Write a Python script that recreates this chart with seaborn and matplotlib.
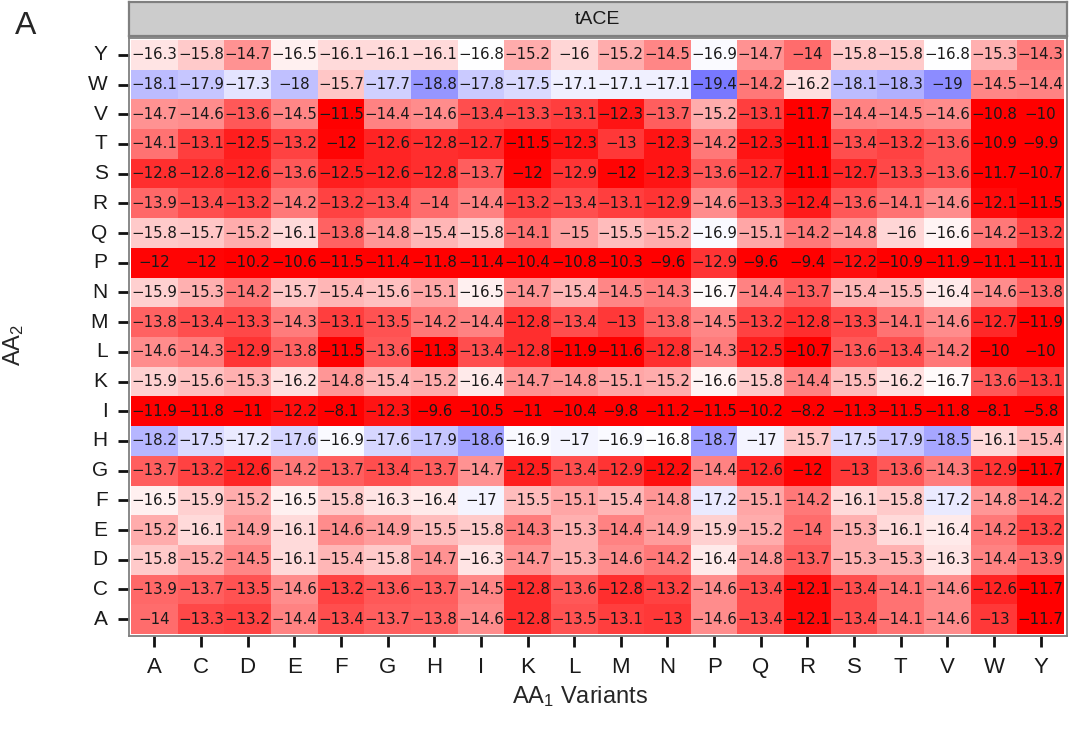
import numpy as np
import pandas as pd
import matplotlib
matplotlib.use("Agg")
import matplotlib.pyplot as plt
import seaborn as sns
from matplotlib.colors import LinearSegmentedColormap

# AA1 variants (columns) and AA2 (rows, top to bottom)
cols = list("ACDEFGHIKLMNPQRSTVWY")
rows = list("YWVTSRQPNMLKIHGFEDCA")

row_Y = [-16.3, -15.8, -14.7, -16.5, -16.1, -16.1, -16.1, -16.8, -15.2, -16, -15.2, -14.5, -16.9, -14.7, -14, -15.8, -15.8, -16.8, -15.3, -14.3]
row_W = [-18.1, -17.9, -17.3, -18, -15.7, -17.7, -18.8, -17.8, -17.5, -17.1, -17.1, -17.1, -19.4, -14.2, -16.2, -18.1, -18.3, -19, -14.5, -14.4]
row_V = [-14.7, -14.6, -13.6, -14.5, -11.5, -14.4, -14.6, -13.4, -13.3, -13.1, -12.3, -13.7, -15.2, -13.1, -11.7, -14.4, -14.5, -14.6, -10.8, -10]
row_T = [-14.1, -13.1, -12.5, -13.2, -12, -12.6, -12.8, -12.7, -11.5, -12.3, -13, -12.3, -14.2, -12.3, -11.1, -13.4, -13.2, -13.6, -10.9, -9.9]
row_S = [-12.8, -12.8, -12.6, -13.6, -12.5, -12.6, -12.8, -13.7, -12, -12.9, -12, -12.3, -13.6, -12.7, -11.1, -12.7, -13.3, -13.6, -11.7, -10.7]
row_R = [-13.9, -13.4, -13.2, -14.2, -13.2, -13.4, -14, -14.4, -13.2, -13.4, -13.1, -12.9, -14.6, -13.3, -12.4, -13.6, -14.1, -14.6, -12.1, -11.5]
row_Q = [-15.8, -15.7, -15.2, -16.1, -13.8, -14.8, -15.4, -15.8, -14.1, -15, -15.5, -15.2, -16.9, -15.1, -14.2, -14.8, -16, -16.6, -14.2, -13.2]
row_P = [-12, -12, -10.2, -10.6, -11.5, -11.4, -11.8, -11.4, -10.4, -10.8, -10.3, -9.6, -12.9, -9.6, -9.4, -12.2, -10.9, -11.9, -11.1, -11.1]
row_N = [-15.9, -15.3, -14.2, -15.7, -15.4, -15.6, -15.1, -16.5, -14.7, -15.4, -14.5, -14.3, -16.7, -14.4, -13.7, -15.4, -15.5, -16.4, -14.6, -13.8]
row_M = [-13.8, -13.4, -13.3, -14.3, -13.1, -13.5, -14.2, -14.4, -12.8, -13.4, -13, -13.8, -14.5, -13.2, -12.8, -13.3, -14.1, -14.6, -12.7, -11.9]
row_L = [-14.6, -14.3, -12.9, -13.8, -11.5, -13.6, -11.3, -13.4, -12.8, -11.9, -11.6, -12.8, -14.3, -12.5, -10.7, -13.6, -13.4, -14.2, -10, -10]
row_K = [-15.9, -15.6, -15.3, -16.2, -14.8, -15.4, -15.2, -16.4, -14.7, -14.8, -15.1, -15.2, -16.6, -15.8, -14.4, -15.5, -16.2, -16.7, -13.6, -13.1]
row_I = [-11.9, -11.8, -11, -12.2, -8.1, -12.3, -9.6, -10.5, -11, -10.4, -9.8, -11.2, -11.5, -10.2, -8.2, -11.3, -11.5, -11.8, -8.1, -5.8]
row_H = [-18.2, -17.5, -17.2, -17.6, -16.9, -17.6, -17.9, -18.6, -16.9, -17, -16.9, -16.8, -18.7, -17, -15.7, -17.5, -17.9, -18.5, -16.1, -15.4]
row_G = [-13.7, -13.2, -12.6, -14.2, -13.7, -13.4, -13.7, -14.7, -12.5, -13.4, -12.9, -12.2, -14.4, -12.6, -12, -13, -13.6, -14.3, -12.9, -11.7]
row_F = [-16.5, -15.9, -15.2, -16.5, -15.8, -16.3, -16.4, -17, -15.5, -15.1, -15.4, -14.8, -17.2, -15.1, -14.2, -16.1, -15.8, -17.2, -14.8, -14.2]
row_E = [-15.2, -16.1, -14.9, -16.1, -14.6, -14.9, -15.5, -15.8, -14.3, -15.3, -14.4, -14.9, -15.9, -15.2, -14, -15.3, -16.1, -16.4, -14.2, -13.2]
row_D = [-15.8, -15.2, -14.5, -16.1, -15.4, -15.8, -14.7, -16.3, -14.7, -15.3, -14.6, -14.2, -16.4, -14.8, -13.7, -15.3, -15.3, -16.3, -14.4, -13.9]
row_C = [-13.9, -13.7, -13.5, -14.6, -13.2, -13.6, -13.7, -14.5, -12.8, -13.6, -12.8, -13.2, -14.6, -13.4, -12.1, -13.4, -14.1, -14.6, -12.6, -11.7]
row_A = [-14, -13.3, -13.2, -14.4, -13.4, -13.7, -13.8, -14.6, -12.8, -13.5, -13.1, -13, -14.6, -13.4, -12.1, -13.4, -14.1, -14.6, -13, -11.7]

data_rows = [row_Y, row_W, row_V, row_T, row_S, row_R, row_Q, row_P, row_N, row_M,
             row_L, row_K, row_I, row_H, row_G, row_F, row_E, row_D, row_C, row_A]
df = pd.DataFrame(data_rows, index=rows, columns=cols)

sns.set_theme(style="white")
plt.rcParams["font.family"] = ["Liberation Sans", "DejaVu Sans"]
plt.rcParams["mathtext.fontset"] = "custom"
plt.rcParams["mathtext.rm"] = "Liberation Sans"
plt.rcParams["mathtext.it"] = "Liberation Sans:italic"
plt.rcParams["mathtext.bf"] = "Liberation Sans:bold"

W, H = 1069, 730
fig = plt.figure(figsize=(W / 100, H / 100), dpi=100)
fig.patch.set_facecolor("white")

ax = fig.add_axes([128.5 / W, 1 - 636 / H, 938 / W, 598 / H])
cmap = LinearSegmentedColormap.from_list("bwr_r2", ["#0000FF", "#FFFFFF", "#FF0000"])
labels = np.vectorize(lambda v: f"{v:g}".replace("-", "\u2212"))(df.values)
sns.heatmap(df, ax=ax, cmap=cmap, vmin=-21.7, vmax=-11.9, annot=labels, fmt="",
            cbar=False, linewidths=0,
            annot_kws=dict(fontsize=10.8, color="#1a1a1a", family=["DejaVu Sans"]))
ax.set_xlim(-0.054, 20.054)
ax.set_ylim(20.067, -0.067)
for s in ax.spines.values():
    s.set_visible(True)
    s.set_color("#7f7f7f")
    s.set_linewidth(1.3)
ax.set_xticks(np.arange(20) + 0.5)
ax.set_yticks(np.arange(20) + 0.5)
ax.set_xticklabels(cols, rotation=0)
ax.set_yticklabels(rows, rotation=0)
ax.tick_params(axis="both", which="major", length=8, width=2.0, color="#111111",
               labelcolor="#1a1a1a", bottom=True, left=True)
ax.tick_params(axis="x", labelsize=16, pad=7)
ax.tick_params(axis="y", labelsize=15, pad=7)
ax.set_xlabel("")
ax.set_ylabel("")

# strip
sax = fig.add_axes([128.5 / W, 1 - 36 / H, 938 / W, 34 / H])
sax.set_facecolor("#CCCCCC")
sax.set_xticks([])
sax.set_yticks([])
for s in sax.spines.values():
    s.set_visible(True)
    s.set_color("#7f7f7f")
    s.set_linewidth(1.6)
sax.text(0.5, 0.5, "tACE", ha="center", va="center", fontsize=14, color="#1a1a1a",
         transform=sax.transAxes)

fig.text(580 / W, 1 - 697 / H, "AA$_1$ Variants", ha="center", va="center", fontsize=17)
fig.text(14 / W, 1 - 345 / H, "AA$_2$", ha="center", va="center", fontsize=17, rotation=90)
fig.text(26 / W, 1 - 26 / H, "A", ha="center", va="center", fontsize=23)

fig.savefig("out.png", dpi=100)
